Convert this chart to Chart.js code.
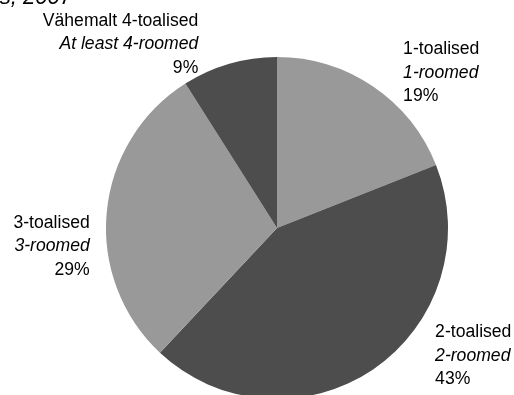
<!DOCTYPE html>
<html><head><meta charset="utf-8">
<script src="https://cdn.jsdelivr.net/npm/chart.js@4/dist/chart.umd.min.js"></script>
<style>
html,body{margin:0;padding:0;background:#fff;overflow:hidden;width:514px;height:395px;}
#wrap{position:absolute;left:0;top:0;width:514px;height:420px;}
#title{position:absolute;right:442px;top:-14px;font:italic 22px "Liberation Sans",Arial,sans-serif;line-height:22px;white-space:nowrap;color:#000;}
</style></head>
<body>
<div id="wrap"><canvas id="c" width="514" height="420"></canvas></div>
<div id="title">s, 2007</div>
<script>
const categoriesEt = ["1-toalised", "2-toalised", "3-toalised", "Vähemalt 4-toalised"];
const categoriesEn = ["1-roomed", "2-roomed", "3-roomed", "At least 4-roomed"];
const shares = [19, 43, 29, 9];
const percentLabels = ["19%", "43%", "29%", "9%"];

const sliceColors = ["#999999", "#4d4d4d", "#999999", "#4d4d4d"];
const labelLayout = [
  {dx: 30, dy: -37, align: "left"},
  {dx: 62, dy: -37, align: "left"},
  {dx: -17, dy: 11, align: "right"},
  {dx: -31, dy: -43, align: "right"}
];

const labelPlugin = {
  id: "sliceLabels",
  afterDraw(chart) {
    const ctx = chart.ctx;
    const meta = chart.getDatasetMeta(0);
    const fs = 17.6, lh = 23.5;
    meta.data.forEach((arc, i) => {
      const p = arc.getProps(["x", "y", "startAngle", "endAngle", "outerRadius"], true);
      const mid = (p.startAngle + p.endAngle) / 2;
      const ax = p.x + Math.cos(mid) * p.outerRadius + labelLayout[i].dx;
      const ay = p.y + Math.sin(mid) * p.outerRadius + labelLayout[i].dy;
      ctx.save();
      ctx.fillStyle = "#000";
      ctx.textAlign = labelLayout[i].align;
      ctx.textBaseline = "middle";
      const fam = '"Liberation Sans", Arial, sans-serif';
      ctx.font = fs + "px " + fam;
      ctx.fillText(categoriesEt[i], ax, ay);
      ctx.font = "italic " + fs + "px " + fam;
      ctx.fillText(categoriesEn[i], ax, ay + lh);
      ctx.font = fs + "px " + fam;
      ctx.fillText(percentLabels[i], ax, ay + 2 * lh);
      ctx.restore();
    });
  }
};

new Chart(document.getElementById("c"), {
  type: "pie",
  data: {
    labels: categoriesEt,
    datasets: [{
      data: shares,
      backgroundColor: sliceColors,
      borderWidth: 0
    }]
  },
  options: {
    responsive: false,
    animation: false,
    layout: {padding: {left: 106, right: 66, top: 57, bottom: 21}},
    plugins: {legend: {display: false}, tooltip: {enabled: false}}
  },
  plugins: [labelPlugin]
});
</script>
</body></html>
